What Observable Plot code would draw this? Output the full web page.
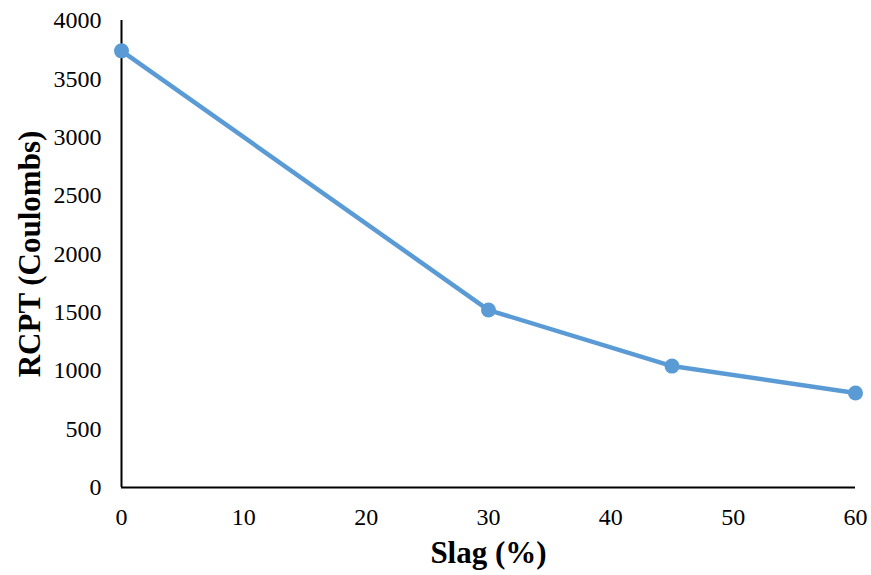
<!DOCTYPE html>
<html>
<head>
<meta charset="utf-8">
<script src="https://cdn.jsdelivr.net/npm/d3@7"></script>
<script src="https://cdn.jsdelivr.net/npm/@observablehq/plot@0.6"></script>
<style>
  html, body { margin: 0; padding: 0; background: #fff; }
</style>
</head>
<body>
<div id="chart"></div>
<script>
const slag = [0, 30, 45, 60];
const rcpt = [3740, 1520, 1040, 810];
const xTicks = [0, 10, 20, 30, 40, 50, 60];
const yTicks = [0, 500, 1000, 1500, 2000, 2500, 3000, 3500, 4000];
const xTitle = "Slag (%)";
const yTitle = "RCPT (Coulombs)";

const data = slag.map((s, i) => ({slag: s, rcpt: rcpt[i]}));

const chart = Plot.plot({
  width: 871,
  height: 575,
  marginLeft: 121,
  marginRight: 16,
  marginTop: 20,
  marginBottom: 88,
  style: {fontFamily: "'Liberation Serif', 'Times New Roman', serif", fontSize: "24px", color: "#000", background: "#fff"},
  x: {domain: [0, 60]},
  y: {domain: [0, 4000]},
  marks: [
    Plot.axisX(xTicks, {tickSize: 0, tickPadding: 20, tickFormat: d3.format("d"), label: null, fontSize: 24}),
    Plot.axisY(yTicks, {tickSize: 0, tickPadding: 20, tickFormat: d3.format("d"), label: null, fontSize: 24}),
    Plot.ruleX([0], {stroke: "#000", strokeWidth: 2}),
    Plot.ruleY([0], {stroke: "#000", strokeWidth: 2}),
    Plot.line(data, {x: "slag", y: "rcpt", stroke: "#5B9BD5", strokeWidth: 4.5}),
    Plot.dot(data, {x: "slag", y: "rcpt", r: 7.5, fill: "#5B9BD5", stroke: "none"}),
    Plot.text([xTitle], {frameAnchor: "bottom", dy: 66, text: d => d, fontSize: 31, fontWeight: "bold", lineAnchor: "middle"}),
    Plot.text([yTitle], {frameAnchor: "left", dx: -91, rotate: -90, text: d => d, fontSize: 31, fontWeight: "bold", textAnchor: "middle", lineAnchor: "middle"})
  ]
});
document.getElementById("chart").appendChild(chart);
</script>
</body>
</html>
